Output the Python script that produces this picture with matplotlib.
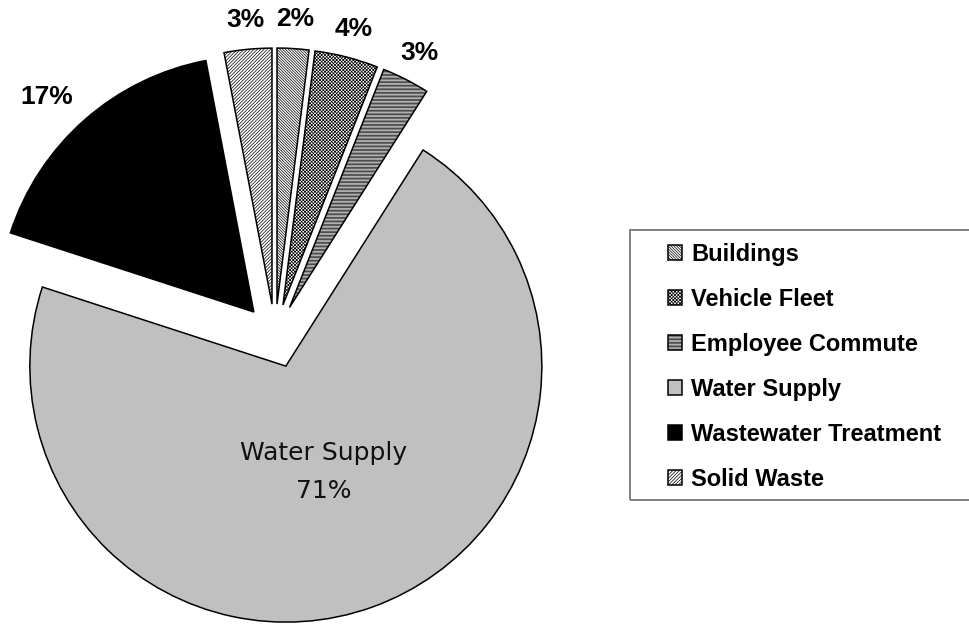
import matplotlib
matplotlib.use("Agg")
import matplotlib.pyplot as plt
import numpy as np
from matplotlib.patches import Rectangle
from matplotlib.font_manager import FontProperties

# ---- data ----
categories = ["Buildings", "Vehicle Fleet", "Employee Commute",
              "Water Supply", "Wastewater Treatment", "Solid Waste"]
values = [2, 4, 3, 71, 17, 3]
pct_labels = ["2%", "4%", "3%", "71%", "17%", "3%"]

# ---- styles ----
face_colors = ["white", "white", "white", "#c0c0c0", "black", "white"]
hatches = ["\\" * 12, "x" * 10, "-" * 12, None, None, "/" * 10]
explode = [0.125] * len(values)

plt.rcParams["hatch.linewidth"] = 0.5

fig = plt.figure(figsize=(9.69, 6.25), dpi=100)
ax = fig.add_axes([0, 0, 1, 1])

wedges, _ = ax.pie(values, startangle=90, counterclock=False,
                   explode=explode, colors=face_colors,
                   wedgeprops=dict(edgecolor="black", linewidth=1.1))
for w, h in zip(wedges, hatches):
    if h:
        w.set_hatch(h)

bold = FontProperties(family="Liberation Sans", weight="bold", size=19)
for i, w in enumerate(wedges):
    mid = np.deg2rad((w.theta1 + w.theta2) / 2)
    cx, cy = w.center
    if categories[i] == "Water Supply":
        r = 0.44
        ax.text(cx + r * np.cos(mid), cy + r * np.sin(mid),
                f"{categories[i]}\n{pct_labels[i]}", ha="center", va="center",
                family="DejaVu Sans", fontsize=18, linespacing=1.7,
                color="#111111")
    else:
        if values[i] > 10:
            r, shift = 1.165, np.deg2rad(2.5)
        else:
            r, shift = 1.115, 0.0
        ax.text(cx + r * np.cos(mid + shift), cy + r * np.sin(mid + shift),
                pct_labels[i], ha="center", va="center", fontproperties=bold)

ax.set_xlim(-1.0742, 2.7109)
ax.set_ylim(-1.1289, 1.3125)
ax.set_aspect("equal")
ax.axis("off")

leg = fig.legend(wedges, categories, loc="upper left",
                 bbox_to_anchor=(668 / 969, 1 - 243 / 625),
                 frameon=False,
                 prop=FontProperties(family="Liberation Sans", weight="bold", size=17),
                 handlelength=0.6, handleheight=0.6, handletextpad=0.38,
                 labelspacing=0.93, borderpad=0, borderaxespad=0)

fig.add_artist(Rectangle((630 / 969, 125 / 625), 0.4, 270 / 625,
                         transform=fig.transFigure, fill=False,
                         edgecolor="#808080", linewidth=1.4))

fig.savefig("out.png", dpi=100)
